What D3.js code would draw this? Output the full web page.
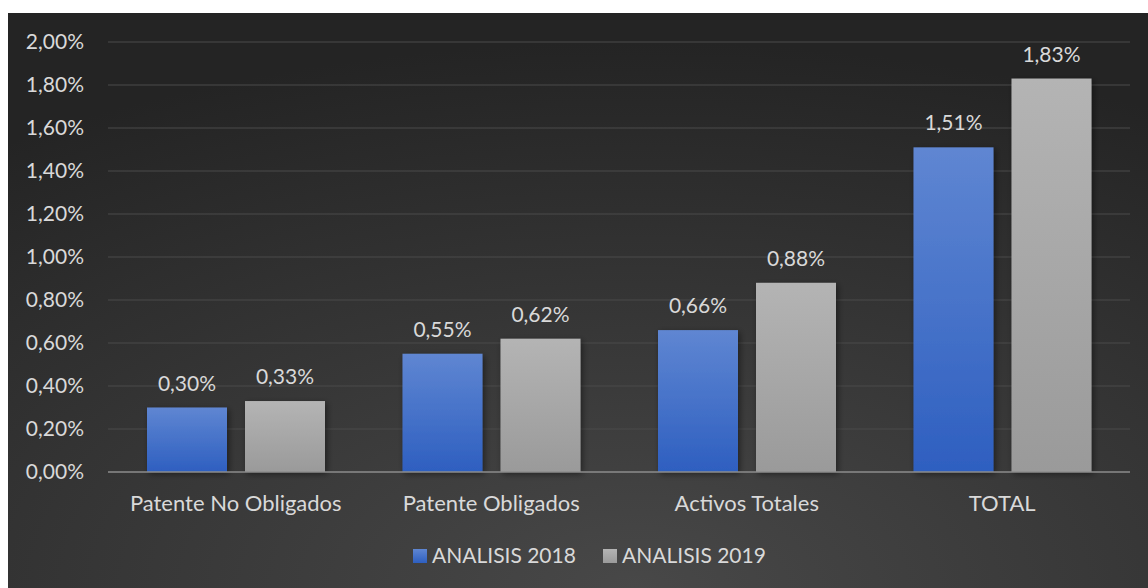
<!DOCTYPE html>
<html>
<head>
<meta charset="utf-8">
<script src="https://cdn.jsdelivr.net/npm/d3@7"></script>
<style>
  body { margin: 0; background: #fff; }
  text { font-family: Lato, "Open Sans", sans-serif; }
</style>
</head>
<body>
<script>
const categories = ["Patente No Obligados", "Patente Obligados", "Activos Totales", "TOTAL"];
const series = ["ANALISIS 2018", "ANALISIS 2019"];
const values2018 = [0.30, 0.55, 0.66, 1.51];
const values2019 = [0.33, 0.62, 0.88, 1.83];
const yTicks = [0, 0.2, 0.4, 0.6, 0.8, 1.0, 1.2, 1.4, 1.6, 1.8, 2.0];

const W = 1148, H = 588;
const margin = { top: 42, right: 18, bottom: 116, left: 108 };

const svg = d3.select("body").append("svg")
    .attr("width", W)
    .attr("height", H);

const defs = svg.append("defs");
const bg = defs.append("radialGradient").attr("id", "bg")
    .attr("cx", "55%").attr("cy", "100%").attr("r", "95%");
bg.append("stop").attr("offset", "0%").attr("stop-color", "#484848");
bg.append("stop").attr("offset", "100%").attr("stop-color", "#242424");

const gBlue = defs.append("linearGradient").attr("id", "blue")
    .attr("x1", 0).attr("y1", 0).attr("x2", 0).attr("y2", 1);
gBlue.append("stop").attr("offset", "0%").attr("stop-color", "#5f86d2");
gBlue.append("stop").attr("offset", "100%").attr("stop-color", "#2e5fc0");

const gGray = defs.append("linearGradient").attr("id", "gray")
    .attr("x1", 0).attr("y1", 0).attr("x2", 0).attr("y2", 1);
gGray.append("stop").attr("offset", "0%").attr("stop-color", "#b4b4b4");
gGray.append("stop").attr("offset", "100%").attr("stop-color", "#9a9a9a");

const shadow = defs.append("filter").attr("id", "shadow")
    .attr("x", "-20%").attr("y", "-20%").attr("width", "140%").attr("height", "140%");
shadow.append("feDropShadow").attr("dx", 2).attr("dy", 2).attr("stdDeviation", 3)
    .attr("flood-color", "#000").attr("flood-opacity", 0.45);

svg.append("rect")
    .attr("x", 8).attr("y", 13)
    .attr("width", W - 8).attr("height", H - 13)
    .attr("fill", "url(#bg)");

const width = W - margin.left - margin.right;
const height = 472 - margin.top;

const g = svg.append("g")
    .attr("transform", `translate(${margin.left}, ${margin.top})`);

const x0 = d3.scaleBand()
    .domain(categories)
    .range([0, width]);

const x1 = d3.scaleBand()
    .domain(series)
    .range([39, 217])
    .paddingInner(0.1837);

const y = d3.scaleLinear()
    .domain([0, 2])
    .range([height, 0]);

// gridlines
g.append("g")
  .selectAll("line")
  .data(yTicks.slice(1))
  .enter()
  .append("line")
    .attr("x1", 0)
    .attr("x2", width)
    .attr("y1", d => y(d))
    .attr("y2", d => y(d))
    .attr("stroke", "#4a4a4a")
    .attr("stroke-width", 1);

// y axis labels
const fmt = d => d.toFixed(2).replace(".", ",") + "%";
g.append("g")
  .selectAll("text")
  .data(yTicks)
  .enter()
  .append("text")
    .attr("x", -24)
    .attr("y", d => y(d))
    .attr("dy", "0.35em")
    .attr("text-anchor", "end")
    .attr("fill", "#d9d9d9")
    .style("font-size", "21px")
    .text(fmt);

const rows = categories.map((c, i) => ({
  cat: c,
  vals: [
    { s: series[0], v: values2018[i], fill: "url(#blue)" },
    { s: series[1], v: values2019[i], fill: "url(#gray)" }
  ]
}));

const groups = g.append("g")
  .selectAll("g")
  .data(rows)
  .enter()
  .append("g")
    .attr("transform", d => `translate(${x0(d.cat)},0)`);

groups.selectAll("rect")
  .data(d => d.vals)
  .enter()
  .append("rect")
    .attr("x", d => x1(d.s))
    .attr("y", d => y(d.v))
    .attr("width", x1.bandwidth())
    .attr("height", d => height - y(d.v))
    .attr("fill", d => d.fill)
    .attr("filter", "url(#shadow)");

groups.selectAll("text")
  .data(d => d.vals)
  .enter()
  .append("text")
    .attr("x", d => x1(d.s) + x1.bandwidth() / 2)
    .attr("y", d => y(d.v) - 17)
    .attr("text-anchor", "middle")
    .attr("fill", "#d9d9d9")
    .style("font-size", "21px")
    .text(d => fmt(d.v));

// baseline
g.append("line")
    .attr("x1", 0).attr("x2", width)
    .attr("y1", height).attr("y2", height)
    .attr("stroke", "#8c8c8c")
    .attr("stroke-width", 1.5);

// category labels
g.append("g")
  .selectAll("text")
  .data(categories)
  .enter()
  .append("text")
    .attr("x", d => x0(d) + x0.bandwidth() / 2)
    .attr("y", height + 39)
    .attr("text-anchor", "middle")
    .attr("fill", "#d9d9d9")
    .style("font-size", "22px")
    .text(d => d);

// legend
const legend = svg.append("g").attr("transform", "translate(413, 556)");
const legendX = [0, 190];
const legendFill = ["url(#blue)", "url(#gray)"];
series.forEach((s, i) => {
  legend.append("rect")
      .attr("x", legendX[i]).attr("y", -7)
      .attr("width", 14).attr("height", 14)
      .attr("fill", legendFill[i]);
  legend.append("text")
      .attr("x", legendX[i] + 19)
      .attr("y", 0)
      .attr("dy", "0.35em")
      .attr("fill", "#d9d9d9")
      .style("font-size", "21px")
      .text(s);
});
</script>
</body>
</html>
